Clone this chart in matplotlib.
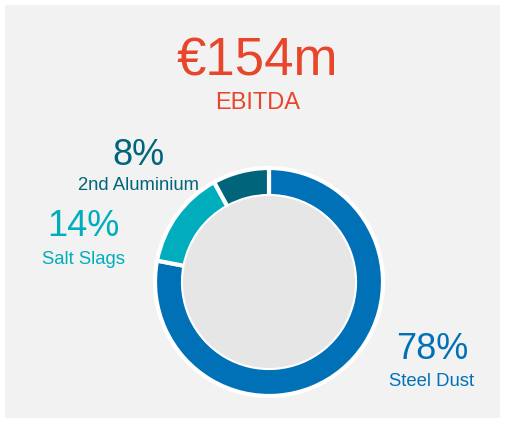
import matplotlib
matplotlib.use("Agg")
import matplotlib.pyplot as plt
from matplotlib.patches import Rectangle, Circle

W, H = 505, 423

categories = ["Steel Dust", "Salt Slags", "2nd Aluminium"]
shares = [78, 14, 8]
colors = ["#0071b7", "#00adbd", "#00657a"]
headline = "€154m"
subtitle = "EBITDA"

fig = plt.figure(figsize=(W / 100, H / 100), dpi=100)
fig.patch.set_facecolor("white")
ax = fig.add_axes([0, 0, 1, 1])
ax.axis("off")

# grey panel
ax.add_patch(Rectangle((5, 5), 495, 413, facecolor="#f2f2f2", edgecolor="none", zorder=0))

# donut (y measured from top of the image)
cx, cy = 269, H - 282
ax.pie(shares, colors=colors, startangle=90, counterclock=False,
       center=(cx, cy), radius=114,
       wedgeprops=dict(width=28, edgecolor="white", linewidth=3))
ax.add_patch(Circle((cx, cy), 86, facecolor="#e6e6e6", edgecolor="none", zorder=5))

ax.set_xlim(0, W)
ax.set_ylim(0, H)
ax.set_aspect("auto")

font = dict(family=["Liberation Sans", "DejaVu Sans"], ha="center", va="center")

ax.text(257, H - 61, headline, fontsize=38, color="#e8462b", **font)
ax.text(258, H - 103, subtitle, fontsize=17, color="#e8462b", **font)

label_pos = {
    "Steel Dust": (432, 349, 381),
    "Salt Slags": (83, 226, 259),
    "2nd Aluminium": (138, 155, 185),
}
for name, share, col in zip(categories, shares, colors):
    x, y1, y2 = label_pos[name]
    ax.text(x, H - y1, f"{share}%", fontsize=26, color=col, **font)
    ax.text(x, H - y2, name, fontsize=13.3, color=col, **font)

fig.savefig("out.png", dpi=100, facecolor=fig.get_facecolor())
